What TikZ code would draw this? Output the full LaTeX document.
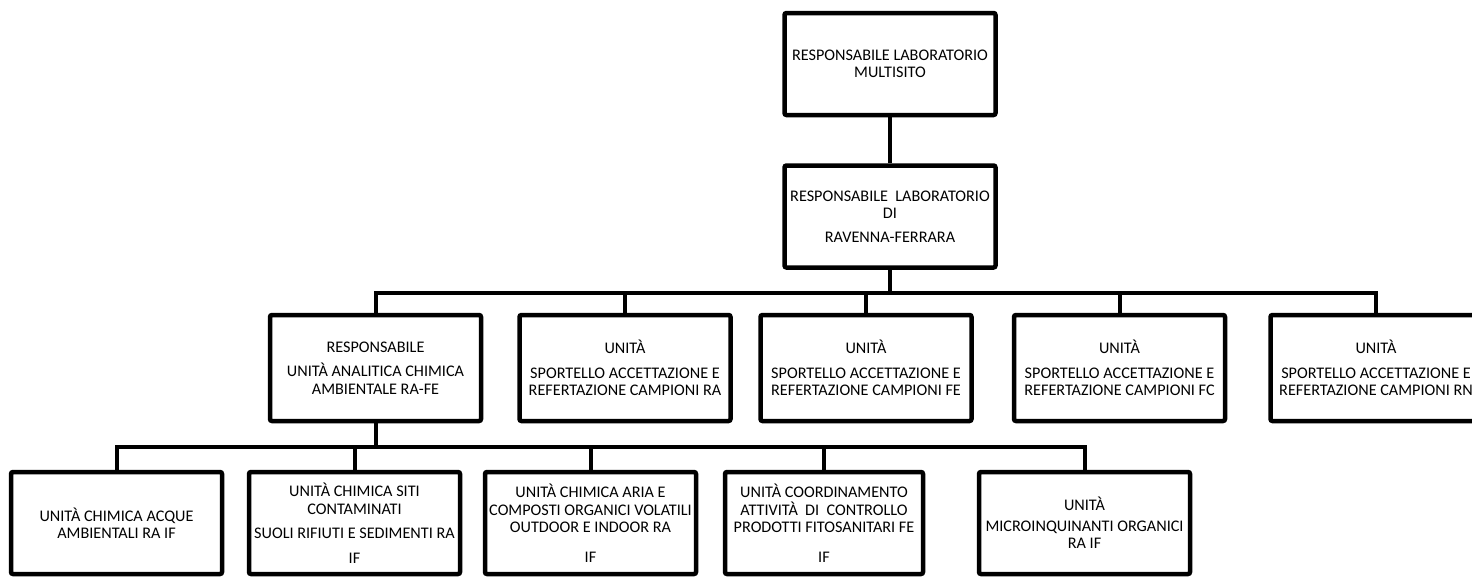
\documentclass[tikz,border=0pt]{standalone}
\usepackage{fontspec}
\setmainfont{Carlito}

\begin{document}
\begin{tikzpicture}[x=1pt, y=-1pt,
        box/.style={draw, line width=4.5pt, rounded corners=2pt, align=center,
            minimum width=211pt, minimum height=102pt, inner sep=2pt,
            font=\fontsize{16.2}{17.5}\selectfont},
        link/.style={line width=4pt}]
        % Frame
        \clip (0,0) rectangle (1472,576);
        \useasboundingbox (0,0) rectangle (1472,576);

        % Top levels
        \node[box] (multisito) at (890,64) {RESPONSABILE LABORATORIO\\ MULTISITO};
        \node[box] (raferr) at (890,216.5) {RESPONSABILE\ \ LABORATORIO\\ DI\\[6pt] RAVENNA-FERRARA};

        % Second level
        \node[box, minimum height=106pt] (respuac) at (375.5,368) {RESPONSABILE\\[7pt] UNITÀ ANALITICA CHIMICA\\ AMBIENTALE RA-FE};
        \node[box, minimum height=106pt] (sportra) at (625,368) {UNITÀ\\[7pt] SPORTELLO ACCETTAZIONE E\\ REFERTAZIONE CAMPIONI RA};
        \node[box, minimum height=106pt] (sportfe) at (866,368) {UNITÀ\\[7pt] SPORTELLO ACCETTAZIONE E\\ REFERTAZIONE CAMPIONI FE};
        \node[box, minimum height=106pt] (sportfc) at (1119.5,368) {UNITÀ\\[7pt] SPORTELLO ACCETTAZIONE E\\ REFERTAZIONE CAMPIONI FC};
        \node[box, minimum height=106pt] (sportrn) at (1376,368) {UNITÀ\\[7pt] SPORTELLO ACCETTAZIONE E\\ REFERTAZIONE CAMPIONI RN};

        % Third level
        \node[box] (acque) at (116.5,523) {UNITÀ CHIMICA ACQUE\\ AMBIENTALI RA IF};
        \node[box] (siti) at (354.5,523) {UNITÀ CHIMICA SITI\\ CONTAMINATI\\[7pt] SUOLI RIFIUTI E SEDIMENTI RA\\[7pt] IF};
        \node[box] (aria) at (590.5,523) {UNITÀ CHIMICA ARIA E\\ COMPOSTI ORGANICI VOLATILI\\ OUTDOOR E INDOOR RA\\[12pt] IF};
        \node[box, minimum width=198pt] (fitosan) at (824,523) {UNITÀ COORDINAMENTO\\ ATTIVITÀ\ \ DI\ \ CONTROLLO\\ PRODOTTI FITOSANITARI FE\\[12pt] IF};
        \node[box] (microinq) at (1084.5,523) {UNITÀ\\[3pt] MICROINQUINANTI ORGANICI\\ RA IF};

        % Connectors
        \draw[link] (multisito) -- (raferr);
        \foreach \child in {respuac, sportra, sportfe, sportfc, sportrn}
            \draw[link] (raferr.south) -- ++(0,23) -| (\child.north);
        \foreach \child in {acque, siti, aria, fitosan, microinq}
            \draw[link] (respuac.south) -- ++(0,24) -| (\child.north);

    \end{tikzpicture}
\end{document}
